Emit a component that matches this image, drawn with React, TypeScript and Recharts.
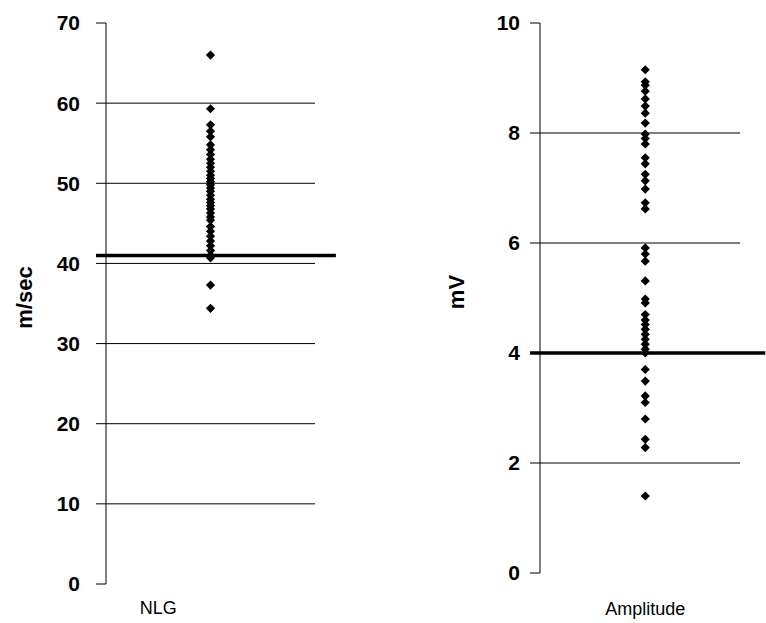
import React from 'react';
import { ScatterChart, Scatter, XAxis, YAxis, ReferenceLine, ZAxis } from 'recharts';

// ---- data ----
const nlgCategory = ['NLG'];
const nlgValues = [
  66.0, 59.3, 57.3, 56.5, 55.8, 54.8, 54.2, 53.6, 53.0, 52.5, 52.0, 51.5, 51.0,
  50.6, 50.2, 49.8, 49.4, 49.0, 48.5, 48.0, 47.6, 47.2, 46.8, 46.3, 45.8, 45.4,
  44.6, 44.0, 43.4, 42.8, 42.2, 41.6, 41.0, 40.7, 37.3, 34.4,
];
const nlgTicks = [0, 10, 20, 30, 40, 50, 60, 70];
const nlgGrid = [10, 20, 30, 40, 50, 60];
const nlgThreshold = 41;

const ampCategory = ['Amplitude'];
const ampValues = [
  9.15, 8.93, 8.87, 8.76, 8.62, 8.49, 8.36, 8.18, 7.98, 7.9, 7.8, 7.55, 7.44,
  7.25, 7.13, 6.98, 6.73, 6.62, 5.91, 5.8, 5.67, 5.31, 4.98, 4.91, 4.7, 4.6,
  4.52, 4.43, 4.34, 4.25, 4.16, 4.07, 4.0, 3.7, 3.49, 3.22, 3.1, 2.8, 2.43,
  2.28, 1.4,
];
const ampTicks = [0, 2, 4, 6, 8, 10];
const ampGrid = [2, 4, 6, 8];
const ampThreshold = 4;

const nlgData = nlgValues.map((v) => ({ x: 0.5, y: v }));
const ampData = ampValues.map((v) => ({ x: 0.5, y: v }));

const FONT = '"Liberation Sans", Arial, sans-serif';

const Diamond = (props: any) => {
  const { cx, cy } = props;
  const r = 4.6;
  return (
    <polygon
      points={`${cx},${cy - r} ${cx + r},${cy} ${cx},${cy + r} ${cx - r},${cy}`}
      fill="#000"
    />
  );
};

const makeYLabel = (text: string, dx: number) => (props: any) => {
  const vb = props.viewBox || {};
  const x = vb.x + dx;
  const y = vb.y + vb.height / 2 - 6;
  return (
    <text
      x={x}
      y={y}
      transform={`rotate(-90, ${x}, ${y})`}
      textAnchor="middle"
      dominantBaseline="central"
      fontFamily={FONT}
      fontWeight="bold"
      fontSize={22}
      fill="#000"
    >
      {text}
    </text>
  );
};

const tickStyle = { fill: '#000', fontSize: 21, fontFamily: FONT, fontWeight: 'bold' };
const catStyle = { fill: '#000', fontSize: 18, fontFamily: FONT };

export default function App() {
  return (
    <div style={{ position: 'absolute', left: 0, top: 0, width: 766, height: 623, background: '#fff' }}>
      <div style={{ position: 'absolute', left: 0, top: 0 }}>
        <ScatterChart width={340} height={623} margin={{ top: 23, right: 25, bottom: 9, left: 0 }}>
          <XAxis
            type="number"
            dataKey="x"
            domain={[0, 1]}
            ticks={[0.25]}
            tickFormatter={() => nlgCategory[0]}
            axisLine={false}
            tickLine={false}
            tickSize={10}
            tickMargin={7}
            height={30}
            tick={catStyle}
            interval={0}
          />
          <YAxis
            type="number"
            dataKey="y"
            domain={[0, 70]}
            ticks={nlgTicks}
            interval={0}
            width={106}
            tickSize={10}
            tickMargin={16}
            axisLine={{ stroke: '#000' }}
            tickLine={{ stroke: '#000' }}
            tick={tickStyle}
            label={{ content: makeYLabel('m/sec', 24) } as any}
          />
          <ZAxis range={[40, 40]} />
          {nlgGrid.map((g) => (
            <ReferenceLine key={g} y={g} stroke="#000" strokeWidth={1} />
          ))}
          <Scatter data={nlgData} shape={<Diamond />} isAnimationActive={false} />
          <ReferenceLine
            segment={[{ x: -0.048, y: nlgThreshold }, { x: 1.1, y: nlgThreshold }]}
            stroke="#000"
            strokeWidth={3.5}
            ifOverflow="visible"
          />
        </ScatterChart>
      </div>
      <div style={{ position: 'absolute', left: 400, top: 0 }}>
        <ScatterChart width={366} height={623} margin={{ top: 23, right: 26, bottom: 20, left: 0 }}>
          <XAxis
            type="number"
            dataKey="x"
            domain={[0, 0.95]}
            ticks={[0.5]}
            tickFormatter={() => ampCategory[0]}
            axisLine={false}
            tickLine={false}
            tickSize={10}
            tickMargin={19}
            height={30}
            tick={catStyle}
            interval={0}
            allowDataOverflow
          />
          <YAxis
            type="number"
            dataKey="y"
            domain={[0, 10]}
            ticks={ampTicks}
            interval={0}
            width={140}
            tickSize={10}
            tickMargin={10}
            axisLine={{ stroke: '#000' }}
            tickLine={{ stroke: '#000' }}
            tick={tickStyle}
            label={{ content: makeYLabel('mV', 56) } as any}
          />
          <ZAxis range={[40, 40]} />
          {ampGrid.map((g) => (
            <ReferenceLine key={g} y={g} stroke="#000" strokeWidth={1} />
          ))}
          <Scatter data={ampData} shape={<Diamond />} isAnimationActive={false} />
          <ReferenceLine
            segment={[{ x: -0.0475, y: ampThreshold }, { x: 1.07, y: ampThreshold }]}
            stroke="#000"
            strokeWidth={3.5}
            ifOverflow="visible"
          />
        </ScatterChart>
      </div>
    </div>
  );
}
